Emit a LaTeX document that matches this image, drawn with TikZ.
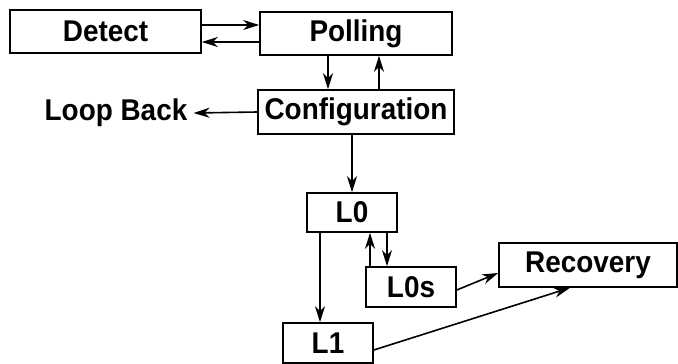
\documentclass[tikz,border=0pt]{standalone}
\usepackage{fontspec}
\newfontfamily\statefont[FakeStretch=0.93]{Liberation Sans}
\usetikzlibrary{arrows.meta}
\begin{document}
\begin{tikzpicture}[x=1pt, y=-1pt,
    state/.style={draw=black, line width=1.6pt, fill=white, minimum height=43, inner sep=0,
                  font=\statefont\bfseries\fontsize{30}{32}\selectfont},
    arr/.style={black, line width=1.6pt, -{Stealth[length=16pt, width=10pt, inset=5pt]}}]
      \useasboundingbox (0,0) rectangle (678,364);
      %
      \node [state, minimum width=191] (detect) at (105.5, 31.5) {Detect};
      \node [state, minimum width=192] (polling) at (356, 33.5) {Polling};
      \node [state, minimum width=196, minimum height=44] (config) at (356, 112) {Configuration};
      \node [font=\statefont\bfseries\fontsize{30}{32}\selectfont, inner sep=0] (loopback) at (116, 113) {Loop Back};
      \node [state, minimum width=90, minimum height=39] (l0) at (352, 212.5) {L0};
      \node [state, minimum width=90, minimum height=40] (l0s) at (411, 287) {L0s};
      \node [state, minimum width=178, minimum height=44] (recovery) at (588, 265) {Recovery};
      \node [state, minimum width=90, minimum height=40] (l1) at (328, 343) {L1};
      %
      \draw [arr] ([yshift=6.5pt]detect.east) -- ([yshift=6.5pt]detect.east -| polling.west);
      \draw [arr] ([yshift=-10.5pt]detect.east -| polling.west) -- ([yshift=-10.5pt]detect.east);
      \draw [arr] ([xshift=-28pt]polling.south) -- ([xshift=-28pt]polling.south |- config.north);
      \draw [arr] ([xshift=23pt]polling.south |- config.north) -- ([xshift=23pt]polling.south);
      \draw [arr] (config.west) -- ([xshift=6pt]loopback.east);
      \draw [arr] (l0.north |- config.south) -- (l0.north);
      %
      \draw [arr] ([xshift=-32pt]l0.south) -- ([xshift=-32pt]l0.south |- l1.north);
      \draw [arr] ([xshift=-41pt]l0s.north) -- ([xshift=-41pt]l0s.north |- l0.south);
      \draw [arr] ([xshift=35pt]l0.south) -- ([xshift=35pt]l0.south |- l0s.north);
      \draw [arr] ([yshift=-3pt]l0s.east) -- ([yshift=-8pt]recovery.west);
      \draw [arr] ([yshift=-7pt]l1.east) -- ([xshift=-18pt]recovery.south);
      %
\end{tikzpicture}
\end{document}
